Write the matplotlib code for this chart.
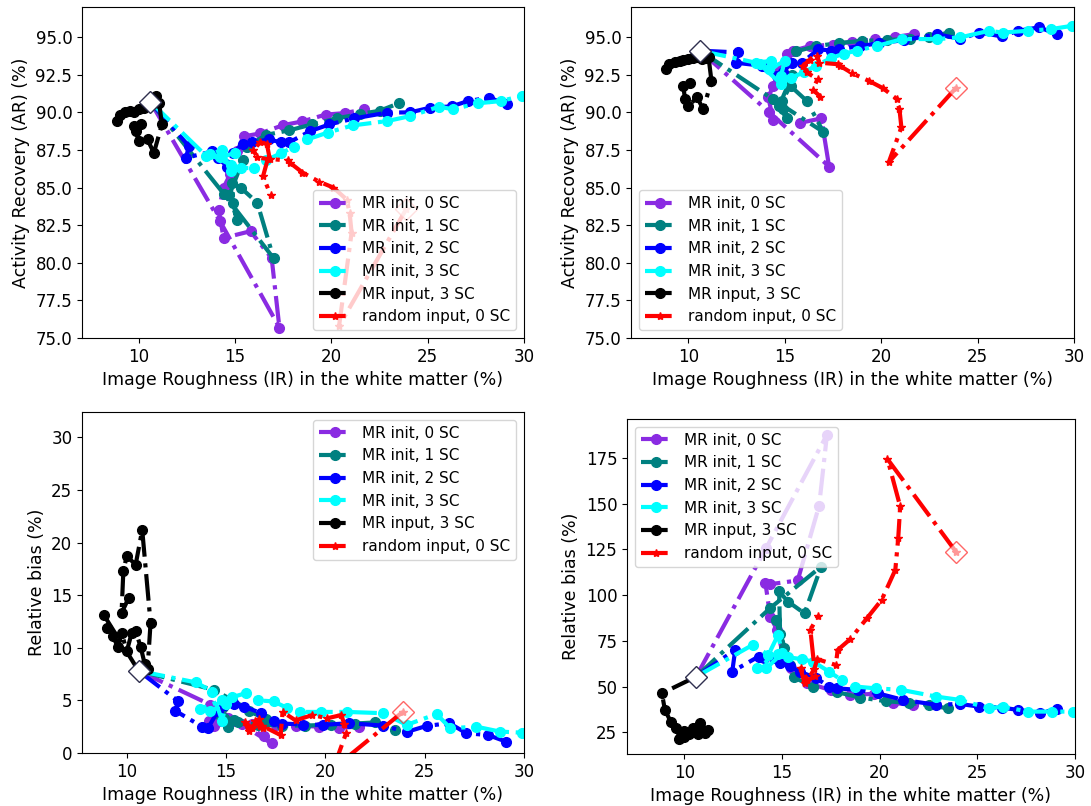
import matplotlib
matplotlib.use("Agg")
import matplotlib.pyplot as plt

# x: image roughness (IR) in white matter, shared by all panels
# MR init, 0 SC
ir_mr0 = [10.6, 14.2, 17.3, 16.9, 15.8, 14.4, 14.15, 14.4, 14.75, 15.1, 15.45, 16.3, 17.5, 18.5, 19.7, 20.7, 21.7]
ar_tl_mr0 = [90.7, 82.8, 75.7, 80.3, 82.1, 81.65, 83.5, 85.0, 85.9, 87.4, 88.4, 88.6, 89.15, 89.4, 89.85, 89.95, 90.2]
ar_tr_mr0 = [94.1, 90.0, 86.4, 89.6, 89.3, 89.5, 91.0, 91.75, 92.8, 93.85, 94.1, 94.4, 94.5, 94.7, 94.85, 95.0, 95.2]
rb_bl_mr0 = [7.8, 4.6, 0.9, 1.6, 2.8, 3.3, 3.0, 2.6, 3.0, 3.3, 3.0, 2.8, 2.7, 2.6, 2.5, 2.4, 2.5]
rb_br_mr0 = [55.4, 126, 187.7, 149, 108, 106, 106.5, 88, 81, 65, 60, 52, 48, 45.4, 46, 41, 40]

# MR init, 1 SC
ir_mr1 = [10.6, 14.4, 17.0, 16.15, 15.3, 14.85, 14.9, 15.1, 14.7, 15.4, 15.6, 16.6, 17.8, 19.0, 20.3, 21.5, 22.5, 23.5]
ar_tl_mr1 = [90.7, 84.6, 80.3, 84.0, 84.98, 85.3, 83.98, 82.87, 84.5, 86.8, 87.7, 88.5, 88.8, 89.2, 89.6, 89.9, 90.1, 90.6]
ar_tr_mr1 = [94.1, 90.86, 88.7, 90.75, 91.75, 90.75, 90.2, 89.6, 90.4, 92.5, 94.05, 94.4, 94.6, 94.75, 94.8, 94.9, 95.0, 95.3]
rb_bl_mr1 = [7.8, 6.0, 3.2, 4.0, 5.0, 4.4, 3.3, 2.5, 3.6, 3.1, 2.9, 2.7, 2.6, 2.6, 2.7, 2.8, 2.9, 2.2]
rb_br_mr1 = [55.4, 93, 115.6, 90, 96.5, 102, 79, 71, 86.5, 61.8, 55, 50, 47, 44, 42, 41, 40, 38]

# MR init, 2 SC
ir_mr2 = [10.6, 12.6, 12.45, 13.8, 14.1, 14.6, 14.9, 15.4, 15.9, 16.75, 17.4, 17.8, 18.9, 19.9, 21.2, 22.9, 24.1, 25.1, 26.25, 27.1, 28.2, 29.1]
ar_tl_mr2 = [90.7, 87.75, 86.98, 87.4, 86.98, 86.4, 87.3, 87.9, 88.0, 88.2, 88.0, 88.0, 88.75, 89.2, 89.6, 89.98, 90.0, 90.3, 90.4, 90.75, 90.98, 90.53]
ar_tr_mr2 = [94.1, 93.98, 93.3, 93.1, 93.0, 92.42, 92.7, 93.3, 93.3, 94.2, 94.1, 94.2, 94.4, 94.6, 94.8, 95.2, 94.87, 95.3, 95.05, 95.42, 95.65, 95.2]
rb_bl_mr2 = [7.8, 4.9, 4.0, 2.5, 2.4, 4.0, 4.6, 4.7, 4.4, 3.8, 3.0, 2.8, 2.7, 2.67, 2.83, 2.6, 2.0, 2.57, 2.83, 1.88, 1.7, 1.08]
rb_br_mr2 = [55.4, 70, 58.2, 66.4, 65.5, 65.5, 63, 61, 58.2, 54.6, 50, 49, 48.2, 46.3, 42.7, 40, 40.5, 39, 38.5, 37.2, 35.7, 37.6]

# MR init, 3 SC
ir_mr3 = [10.6, 13.5, 14.3, 14.8, 15.0, 14.2, 13.7, 14.8, 15.3, 16.0, 16.6, 17.4, 18.05, 18.75, 19.8, 21.1, 22.9, 24.1, 25.6, 26.3, 27.6, 28.8, 29.9]
ar_tl_mr3 = [90.7, 87.1, 87.5, 86.1, 87.3, 87.0, 87.2, 86.5, 86.3, 86.3, 86.8, 87.3, 87.7, 88.2, 88.65, 89.13, 89.42, 89.75, 90.38, 90.2, 90.6, 90.75, 91.1]
ar_tr_mr3 = [94.1, 93.3, 93.42, 92.42, 93.4, 92.9, 93.2, 91.9, 92.3, 92.65, 93.1, 93.6, 93.9, 94.1, 94.42, 94.87, 94.87, 94.98, 95.42, 95.3, 95.42, 95.53, 95.75]
rb_bl_mr3 = [7.8, 6.7, 5.84, 3.08, 4.67, 4.0, 4.2, 5.0, 5.3, 5.68, 5.0, 4.9, 4.3, 3.9, 3.9, 3.9, 3.78, 2.67, 3.7, 2.35, 2.5, 2.03, 1.93]
rb_br_mr3 = [55.4, 72.8, 67.3, 78.3, 68.2, 60, 60, 68, 66, 65, 63.6, 58.2, 53.6, 50, 49, 48.2, 44.5, 42.7, 38.1, 39, 36.3, 36.3, 36.3]

# MR input, 3 SC
ir_inp = [10.6, 8.85, 9.0, 9.3, 9.55, 9.75, 10.0, 10.25, 10.45, 10.7, 10.9, 11.05, 11.2, 10.78, 10.45, 10.0, 9.83, 9.74, 10.09]
ar_tl_inp = [90.7, 89.4, 89.8, 90.0, 90.1, 90.0, 90.2, 90.3, 90.4, 90.6, 91.1, 90.65, 89.2, 87.3, 88.2, 88.1, 88.75, 89.1, 89.2]
ar_tr_inp = [94.1, 92.87, 93.2, 93.35, 93.4, 93.45, 93.53, 93.6, 93.65, 93.53, 93.6, 93.65, 92.1, 90.2, 91.0, 90.4, 90.87, 91.75, 91.98]
rb_bl_inp = [7.8, 13.1, 11.9, 11.1, 10.1, 11.4, 9.65, 11.4, 11.55, 10.1, 8.5, 8.0, 12.35, 21.2, 17.9, 18.7, 17.3, 13.3, 14.7]
rb_br_inp = [55.4, 46.3, 37.2, 30.8, 27.5, 22, 25.5, 24, 27.5, 24, 26.5, 24.5, 26, 30, 25.5, 22.5, 25, 21.5, 24]

# random input, 0 SC
ir_rnd = [23.9, 20.4, 21.05, 20.95, 20.8, 20.1, 19.35, 18.5, 17.85, 17.75, 16.8, 16.65, 16.3, 15.95, 16.15, 16.7, 16.45, 16.85]
ar_tl_rnd = [83.6, 75.8, 82.0, 83.3, 84.2, 85.0, 85.4, 86.0, 86.65, 86.8, 86.9, 87.9, 88.0, 87.5, 87.0, 86.9, 85.75, 84.5]
ar_tr_rnd = [91.65, 86.7, 89.0, 90.2, 90.9, 91.6, 92.1, 92.6, 93.1, 93.2, 93.3, 93.75, 93.5, 93.1, 92.65, 92.2, 91.5, 91.05]
rb_bl_rnd = [3.9, -1.5, 1.9, 2.8, 3.6, 3.3, 3.6, 3.1, 3.9, 1.7, 2.6, 3.2, 2.4, 2.9, 2.1, 2.6, 3.0, 2.4]
rb_br_rnd = [123.8, 174.4, 148.5, 131.2, 113.8, 97.4, 87.4, 76.0, 70.0, 61.8, 65.0, 59.5, 53.6, 60.0, 52.0, 56.0, 81.0, 88.7]

labels = ["MR init, 0 SC", "MR init, 1 SC", "MR init, 2 SC", "MR init, 3 SC",
          "MR input, 3 SC", "random input, 0 SC"]
colors = ["blueviolet", "teal", "blue", "cyan", "black", "red"]
markers = ["o", "o", "o", "o", "o", "*"]
xs = [ir_mr0, ir_mr1, ir_mr2, ir_mr3, ir_inp, ir_rnd]

panels = [
    ([ar_tl_mr0, ar_tl_mr1, ar_tl_mr2, ar_tl_mr3, ar_tl_inp, ar_tl_rnd],
     "Activity Recovery (AR) (%)", (7.05, 30), (75, 97), "lower right",
     [0.0752, 0.5806, 0.405, 0.4107]),
    ([ar_tr_mr0, ar_tr_mr1, ar_tr_mr2, ar_tr_mr3, ar_tr_inp, ar_tr_rnd],
     "Activity Recovery (AR) (%)", (7.03, 30), (75, 97), "lower left",
     [0.5784, 0.5806, 0.406, 0.4107]),
    ([rb_bl_mr0, rb_bl_mr1, rb_bl_mr2, rb_bl_mr3, rb_bl_inp, rb_bl_rnd],
     "Relative bias (%)", (7.75, 30), (0, 32.4), "upper right",
     [0.0752, 0.0658, 0.405, 0.423]),
    ([rb_br_mr0, rb_br_mr1, rb_br_mr2, rb_br_mr3, rb_br_inp, rb_br_rnd],
     "Relative bias (%)", (7.06, 30), (13.1, 196.3), "upper left",
     [0.5747, 0.0645, 0.4106, 0.4156]),
]

fig = plt.figure(figsize=(10.91, 8.06), dpi=100)

for ys, ylabel, xlim, ylim, loc, rect in panels:
    ax = fig.add_axes(rect)
    for x, y, c, m, lab in zip(xs, ys, colors, markers, labels):
        ms = 7 if m == "o" else 6
        ax.plot(x, y, linestyle="-.", marker=m, color=c, linewidth=3,
                markersize=ms, label=lab)
    # starting points
    ax.plot(ir_mr0[0], ys[0][0], "D", markersize=11, markerfacecolor="white",
            markeredgecolor="#2f2f4f", markeredgewidth=1, zorder=4)
    ax.plot(ir_rnd[0], ys[5][0], "D", markersize=11, markerfacecolor="white",
            markeredgecolor="red", markeredgewidth=1, alpha=0.6, zorder=4)
    ax.set_xlim(*xlim)
    ax.set_ylim(*ylim)
    ax.set_xticks([10, 15, 20, 25, 30])
    ax.set_xlabel("Image Roughness (IR) in the white matter (%)", fontsize=12.5)
    ax.set_ylabel(ylabel, fontsize=12.5)
    ax.tick_params(labelsize=12)
    ax.legend(loc=loc, fontsize=11)

fig.savefig("out.png", dpi=100)
